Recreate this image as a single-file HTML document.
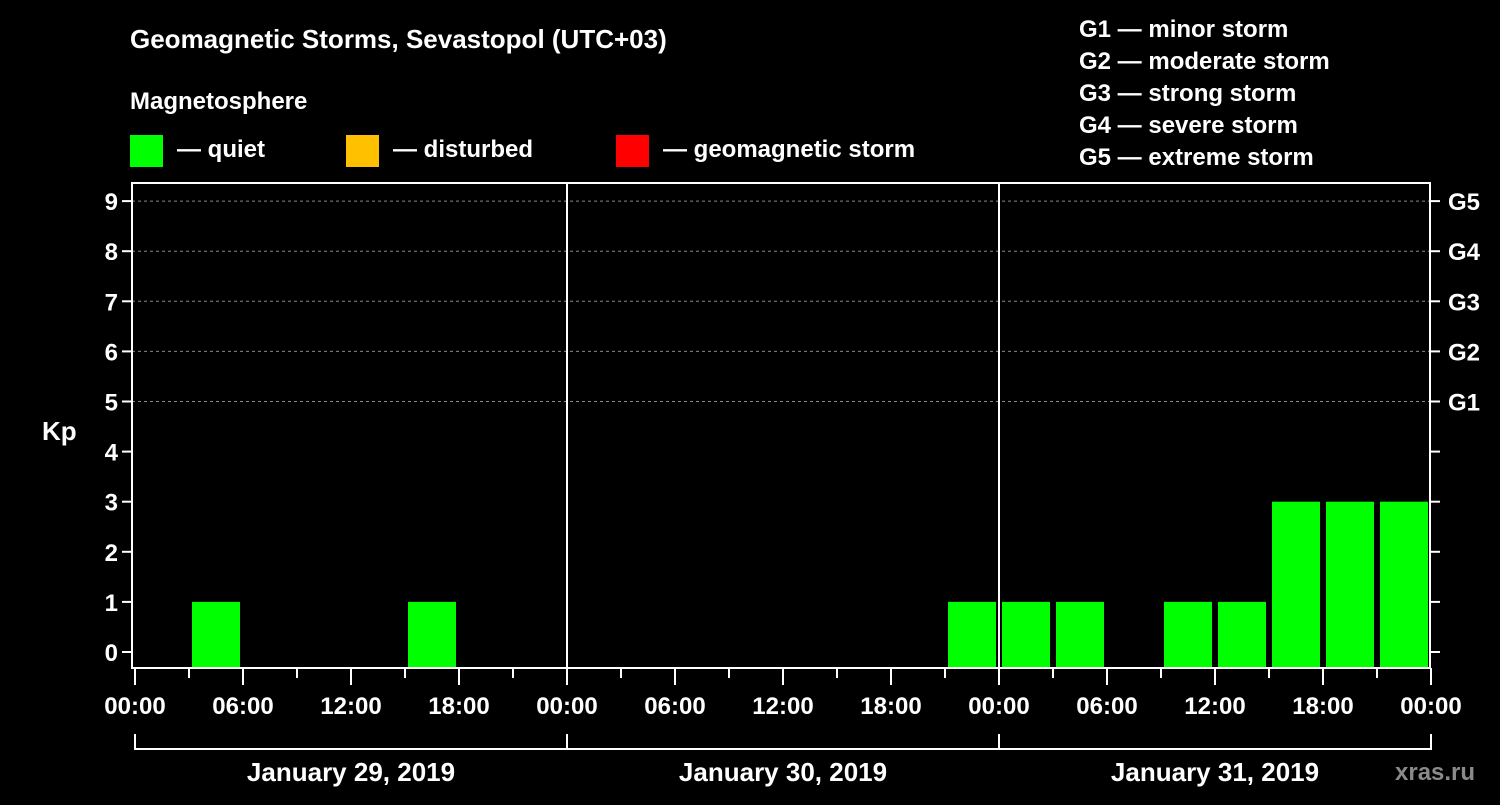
<!DOCTYPE html>
<html><head><meta charset="utf-8"><style>
body{margin:0;background:#000;width:1500px;height:800px;overflow:hidden;font-family:"Liberation Sans",Arial,sans-serif}
svg text{font-family:"Liberation Sans",Arial,sans-serif;font-weight:bold;fill:#fff}
</style></head><body>
<svg id="c" width="1500" height="800">
<text x="130" y="48" font-size="26">Geomagnetic Storms, Sevastopol (UTC+03)</text>
<text x="130" y="109" font-size="24">Magnetosphere</text>
<g><rect x="130" y="135" width="33" height="32" fill="#00ff00"/><text x="177" y="157" font-size="24">— quiet</text></g>
<g><rect x="346" y="135" width="33" height="32" fill="#ffc000"/><text x="393" y="157" font-size="24">— disturbed</text></g>
<g><rect x="616" y="135" width="33" height="32" fill="#ff0000"/><text x="663" y="157" font-size="24">— geomagnetic storm</text></g>
<g font-size="24">
<text x="1079" y="37">G1 — minor storm</text><text x="1079" y="69">G2 — moderate storm</text><text x="1079" y="101">G3 — strong storm</text><text x="1079" y="133">G4 — severe storm</text><text x="1079" y="165">G5 — extreme storm</text></g>
<text x="42" y="440" font-size="26">Kp</text>
<text x="1395" y="780" font-size="24" fill="#888" style="fill:#8a8a8a">xras.ru</text>
<g id="plot"></g>
</svg>
<script>
const dates=["January 29, 2019","January 30, 2019","January 31, 2019"];
const kpValues=[0,1,0,0,0,1,0,0, 0,0,0,0,0,0,0,1, 1,1,0,1,1,3,3,3];
const timeLabels=["00:00","06:00","12:00","18:00"];
const kpTicks=[0,1,2,3,4,5,6,7,8,9];
const gLabels=["G1","G2","G3","G4","G5"];
const NS="http://www.w3.org/2000/svg";
const g=document.getElementById('plot');
const X0=135,DAY=432,Y0=652,UNIT=50.1,TOP=183,BOT=668,RIGHT=1430,LEFT=132;
const x=h=>X0+h*DAY/24;
const y=k=>Y0-k*UNIT;
function el(t,a,txt){const e=document.createElementNS(NS,t);for(const k in a)e.setAttribute(k,a[k]);if(txt!=null)e.textContent=txt;g.appendChild(e);return e;}
// grid
[5,6,7,8,9].forEach(k=>{const e=el('line',{x1:LEFT,x2:RIGHT,y1:y(k),y2:y(k),stroke:'#888','stroke-dasharray':'3,3','stroke-width':1});

});
// bars
kpValues.forEach((v,i)=>{if(v<=0)return;const c=v>=5?'#ff0000':(v>=4?'#ffc000':'#00ff00');
const e=el('rect',{x:x(i*3)+3,y:y(v),width:DAY/8-6,height:BOT-y(v),fill:c});

});
// frame
const fr=el('rect',{x:LEFT,y:TOP,width:RIGHT-LEFT,height:BOT-TOP,fill:'none',stroke:'#fff','stroke-width':2});


[1,2].forEach(d=>{const e=el('line',{x1:x(d*24),x2:x(d*24),y1:TOP,y2:BOT,stroke:'#fff','stroke-width':2});

});
// y ticks
kpTicks.forEach(k=>{el('line',{x1:LEFT-10,x2:LEFT,y1:y(k),y2:y(k),stroke:'#fff','stroke-width':2});
el('line',{x1:RIGHT,x2:RIGHT+10,y1:y(k),y2:y(k),stroke:'#fff','stroke-width':2});
const t=el('text',{x:LEFT-14,y:y(k)+9,'font-size':24,'text-anchor':'end'},k);

});
gLabels.forEach((s,i)=>{const t=el('text',{x:1448,y:y(5+i)+9,'font-size':24},s);

});
// x ticks
for(let h=0;h<=72;h+=3){const major=h%6===0;el('line',{x1:x(h),x2:x(h),y1:BOT,y2:BOT+(major?17:10),stroke:'#fff','stroke-width':2});
if(major){const t=el('text',{x:x(h),y:714,'font-size':24,'text-anchor':'middle'},timeLabels[(h%24)/6]);

}}
// date brackets
el('line',{x1:x(0),x2:x(72),y1:749,y2:749,stroke:'#fff','stroke-width':2});
for(let d=0;d<=3;d++)el('line',{x1:x(d*24),x2:x(d*24),y1:734,y2:750,stroke:'#fff','stroke-width':2});
dates.forEach((s,d)=>{const t=el('text',{x:x(d*24+12),y:781,'font-size':26,'text-anchor':'middle'},s);

});
</script>
</body></html>
